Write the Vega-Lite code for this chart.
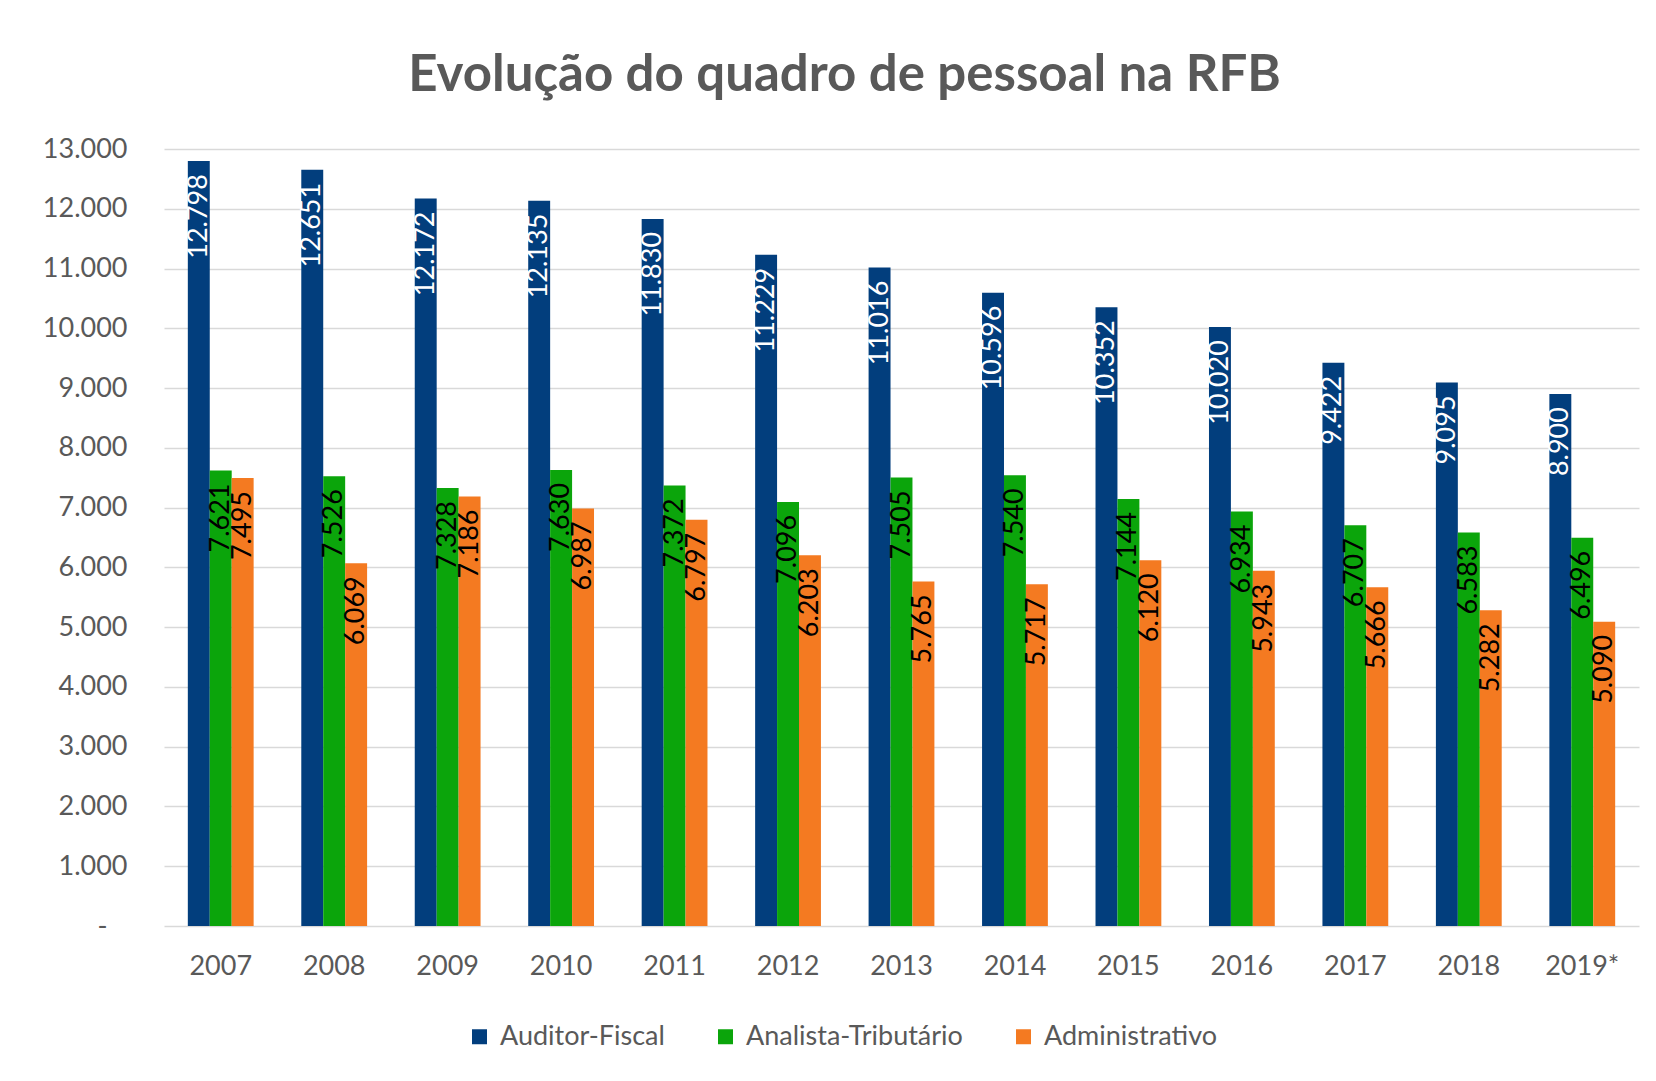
{
  "$schema": "https://vega.github.io/schema/vega-lite/v6.json",
  "autosize": {"type": "none"},
  "width": 1475,
  "height": 777,
  "padding": {"left": 164, "top": 149, "right": 17, "bottom": 155},
  "background": "white",
  "config": {
    "locale": {"number": {"decimal": ",", "thousands": ".", "grouping": [3], "currency": ["R$", ""]}},
    "font": "Lato",
    "view": {"stroke": null}
  },
  "title": {
    "text": "Evolução do quadro de pessoal na RFB",
    "font": "Lato",
    "fontSize": 51,
    "fontWeight": "bold",
    "color": "#595959",
    "anchor": "middle",
    "dx": -57,
    "baseline": "alphabetic",
    "offset": -7
  },
  "data": {
    "values": [
      {"ano": "2007", "cargo": "Auditor-Fiscal", "valor": 12798},
      {"ano": "2007", "cargo": "Analista-Tributário", "valor": 7621},
      {"ano": "2007", "cargo": "Administrativo", "valor": 7495},
      {"ano": "2008", "cargo": "Auditor-Fiscal", "valor": 12651},
      {"ano": "2008", "cargo": "Analista-Tributário", "valor": 7526},
      {"ano": "2008", "cargo": "Administrativo", "valor": 6069},
      {"ano": "2009", "cargo": "Auditor-Fiscal", "valor": 12172},
      {"ano": "2009", "cargo": "Analista-Tributário", "valor": 7328},
      {"ano": "2009", "cargo": "Administrativo", "valor": 7186},
      {"ano": "2010", "cargo": "Auditor-Fiscal", "valor": 12135},
      {"ano": "2010", "cargo": "Analista-Tributário", "valor": 7630},
      {"ano": "2010", "cargo": "Administrativo", "valor": 6987},
      {"ano": "2011", "cargo": "Auditor-Fiscal", "valor": 11830},
      {"ano": "2011", "cargo": "Analista-Tributário", "valor": 7372},
      {"ano": "2011", "cargo": "Administrativo", "valor": 6797},
      {"ano": "2012", "cargo": "Auditor-Fiscal", "valor": 11229},
      {"ano": "2012", "cargo": "Analista-Tributário", "valor": 7096},
      {"ano": "2012", "cargo": "Administrativo", "valor": 6203},
      {"ano": "2013", "cargo": "Auditor-Fiscal", "valor": 11016},
      {"ano": "2013", "cargo": "Analista-Tributário", "valor": 7505},
      {"ano": "2013", "cargo": "Administrativo", "valor": 5765},
      {"ano": "2014", "cargo": "Auditor-Fiscal", "valor": 10596},
      {"ano": "2014", "cargo": "Analista-Tributário", "valor": 7540},
      {"ano": "2014", "cargo": "Administrativo", "valor": 5717},
      {"ano": "2015", "cargo": "Auditor-Fiscal", "valor": 10352},
      {"ano": "2015", "cargo": "Analista-Tributário", "valor": 7144},
      {"ano": "2015", "cargo": "Administrativo", "valor": 6120},
      {"ano": "2016", "cargo": "Auditor-Fiscal", "valor": 10020},
      {"ano": "2016", "cargo": "Analista-Tributário", "valor": 6934},
      {"ano": "2016", "cargo": "Administrativo", "valor": 5943},
      {"ano": "2017", "cargo": "Auditor-Fiscal", "valor": 9422},
      {"ano": "2017", "cargo": "Analista-Tributário", "valor": 6707},
      {"ano": "2017", "cargo": "Administrativo", "valor": 5666},
      {"ano": "2018", "cargo": "Auditor-Fiscal", "valor": 9095},
      {"ano": "2018", "cargo": "Analista-Tributário", "valor": 6583},
      {"ano": "2018", "cargo": "Administrativo", "valor": 5282},
      {"ano": "2019*", "cargo": "Auditor-Fiscal", "valor": 8900},
      {"ano": "2019*", "cargo": "Analista-Tributário", "valor": 6496},
      {"ano": "2019*", "cargo": "Administrativo", "valor": 5090}
    ]
  },
  "encoding": {
    "x": {
      "field": "ano",
      "type": "nominal",
      "sort": null,
      "scale": {"paddingInner": 0.42, "paddingOuter": 0.21},
      "axis": {
        "title": null,
        "labelAngle": 0,
        "labelFont": "Lato",
        "labelFontSize": 27,
        "labelColor": "#595959",
        "labelPadding": 27,
        "ticks": false,
        "domain": false
      }
    },
    "xOffset": {
      "field": "cargo",
      "type": "nominal",
      "sort": ["Auditor-Fiscal", "Analista-Tributário", "Administrativo"],
      "scale": {"paddingInner": 0, "paddingOuter": 0}
    },
    "y": {
      "field": "valor",
      "type": "quantitative",
      "scale": {"domain": [0, 13000], "nice": false},
      "axis": {
        "title": null,
        "values": [0, 1000, 2000, 3000, 4000, 5000, 6000, 7000, 8000, 9000, 10000, 11000, 12000, 13000],
        "format": ",d",
        "labelExpr": "datum.value == 0 ? '-\u2800' : datum.label",
        "labelFont": "Lato",
        "labelFontSize": 27,
        "labelColor": "#595959",
        "labelPadding": 37,
        "ticks": false,
        "domain": false,
        "gridColor": "#d9d9d9",
        "gridWidth": 1.5
      }
    }
  },
  "layer": [
    {
      "mark": {"type": "bar"},
      "encoding": {
        "color": {
          "field": "cargo",
          "type": "nominal",
          "scale": {
            "domain": ["Auditor-Fiscal", "Analista-Tributário", "Administrativo"],
            "range": ["#023e7d", "#0ba50b", "#f47a21"]
          },
          "legend": {
            "title": null,
            "orient": "none",
            "direction": "horizontal",
            "legendX": 302,
            "legendY": 874,
            "padding": 0,
            "symbolType": "square",
            "symbolSize": 225,
            "symbolStrokeWidth": 0,
            "symbolOpacity": 1,
            "labelFont": "Lato",
            "labelFontSize": 27,
            "labelColor": "#595959",
            "labelOffset": 7,
            "labelLimit": 0,
            "columnPadding": 47
          }
        }
      }
    },
    {
      "mark": {
        "type": "text",
        "angle": 270,
        "align": "right",
        "baseline": "middle",
        "dx": -13,
        "font": "Lato",
        "fontSize": 27
      },
      "encoding": {
        "text": {"field": "valor", "type": "quantitative", "format": ",d"},
        "color": {
          "condition": {"test": "datum.cargo == 'Auditor-Fiscal'", "value": "#ffffff"},
          "value": "#000000"
        }
      }
    }
  ]
}
